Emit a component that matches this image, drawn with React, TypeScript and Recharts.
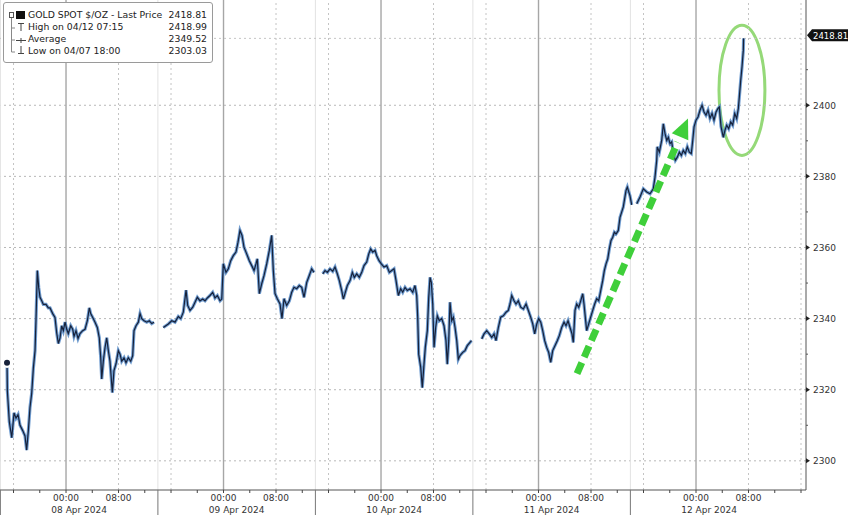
import React from "react";
import {
  LineChart,
  Line,
  XAxis,
  YAxis,
  ReferenceLine,
  ReferenceArea,
} from "recharts";

// time = hours since 08 Apr 2024 00:00, price = $/oz
const apr08Session: [number, number][] = [
  [-8.99, 2327.6], [-8.94, 2319.7], [-8.64, 2311.0], [-8.27, 2306.5], [-7.92, 2313.5],
  [-7.62, 2312.0], [-7.31, 2313.0], [-7.01, 2310.0], [-6.6, 2308.5], [-6.25, 2307.0],
  [-6.0, 2303.03], [-5.74, 2308.5], [-5.49, 2315.0], [-5.23, 2319.0], [-4.98, 2326.0],
  [-4.72, 2331.0], [-4.57, 2340.0], [-4.37, 2353.5], [-4.16, 2348.7], [-3.96, 2346.0],
  [-3.7, 2345.0], [-3.46, 2344.0], [-3.05, 2344.0], [-2.7, 2343.0], [-2.44, 2343.0],
  [-2.03, 2341.4], [-1.68, 2340.3], [-1.42, 2336.0], [-1.17, 2333.0], [-0.91, 2334.6],
  [-0.66, 2338.0], [-0.41, 2336.6], [-0.15, 2339.0], [0.11, 2337.0], [0.35, 2335.8],
  [0.72, 2338.0], [1.02, 2337.0], [1.22, 2335.0], [1.52, 2336.6], [1.83, 2334.4],
  [2.13, 2335.8], [2.54, 2336.6], [2.9, 2337.0], [3.25, 2339.4], [3.55, 2343.0],
  [3.76, 2341.4], [4.07, 2340.3], [4.42, 2339.0], [4.77, 2337.5], [5.07, 2334.6],
  [5.29, 2329.0], [5.44, 2323.0], [5.68, 2328.0], [5.94, 2331.8], [6.2, 2334.6],
  [6.45, 2331.0], [6.7, 2328.0], [7.06, 2319.2], [7.31, 2325.4], [7.62, 2327.3],
  [7.97, 2331.0], [8.23, 2330.0], [8.49, 2328.0], [8.84, 2329.0], [9.14, 2327.6],
  [9.49, 2329.0], [9.86, 2328.0], [10.16, 2329.6], [10.36, 2336.6], [10.67, 2338.0],
  [11.02, 2339.0], [11.28, 2341.4], [11.54, 2340.0], [11.89, 2339.4], [12.3, 2339.0],
  [12.69, 2339.4], [13.06, 2338.6], [13.41, 2339.0],
];

const apr09Session: [number, number][] = [
  [14.83, 2337.5], [15.59, 2338.5], [16.11, 2339.4], [16.61, 2339.0], [17.11, 2340.6],
  [17.48, 2340.0], [17.87, 2341.8], [18.29, 2348.0], [18.54, 2343.7], [18.9, 2342.3],
  [19.31, 2343.2], [19.66, 2344.6], [20.01, 2346.0], [20.42, 2345.0], [20.83, 2345.5],
  [21.18, 2345.0], [21.53, 2345.8], [21.94, 2346.5], [22.35, 2347.4], [22.7, 2345.8],
  [23.06, 2346.5], [23.47, 2345.0], [23.73, 2345.5], [23.97, 2355.4], [24.38, 2353.0],
  [24.73, 2354.0], [25.1, 2356.3], [25.49, 2357.7], [25.9, 2358.7], [26.21, 2361.5],
  [26.51, 2364.8], [26.82, 2363.4], [27.12, 2360.1], [27.53, 2358.2], [27.93, 2356.3],
  [28.3, 2354.9], [28.65, 2353.5], [28.95, 2355.4], [29.15, 2356.8], [29.46, 2347.0],
  [29.82, 2349.8], [30.17, 2352.1], [30.58, 2355.4], [30.98, 2359.2], [31.34, 2363.4],
  [31.59, 2353.5], [31.85, 2347.0], [32.2, 2345.6], [32.61, 2344.1], [32.91, 2340.0],
  [33.22, 2345.6], [33.63, 2343.7], [34.03, 2345.0], [34.39, 2347.4], [34.74, 2348.8],
  [35.15, 2348.4], [35.55, 2349.3], [35.92, 2348.8], [36.27, 2346.0], [36.68, 2350.2],
  [37.07, 2352.1], [37.44, 2354.0], [37.79, 2353.0],
];

const apr10Session: [number, number][] = [
  [39.12, 2352.6], [39.47, 2353.5], [39.82, 2353.0], [40.23, 2354.0], [40.64, 2353.3],
  [40.99, 2354.5], [41.34, 2352.6], [41.65, 2350.7], [42.01, 2347.9], [42.26, 2345.5],
  [42.56, 2347.4], [42.87, 2349.3], [43.28, 2350.7], [43.63, 2353.0], [43.93, 2351.6],
  [44.3, 2352.6], [44.69, 2351.6], [45.06, 2353.0], [45.41, 2354.9], [45.82, 2355.9],
  [46.13, 2358.2], [46.43, 2359.6], [46.74, 2358.7], [47.09, 2359.2], [47.34, 2357.7],
  [47.7, 2356.3], [48.05, 2355.4], [48.46, 2354.5], [48.87, 2354.9], [49.27, 2353.0],
  [49.63, 2353.5], [49.98, 2354.0], [50.29, 2350.7], [50.64, 2346.5], [51.0, 2348.4],
  [51.31, 2347.4], [51.66, 2348.8], [52.01, 2347.9], [52.42, 2348.4], [52.83, 2347.4],
  [53.18, 2349.3], [53.44, 2346.5], [53.59, 2340.4], [53.74, 2330.0], [54.05, 2326.3],
  [54.29, 2320.6], [54.55, 2327.2], [54.75, 2331.9], [55.06, 2336.6], [55.27, 2346.0],
  [55.47, 2351.6], [55.67, 2350.2], [55.88, 2344.1], [56.08, 2331.9], [56.33, 2337.5],
  [56.58, 2340.8], [56.88, 2339.4], [57.25, 2340.0], [57.6, 2338.0], [57.9, 2333.8],
  [58.1, 2327.2], [58.32, 2333.8], [58.51, 2344.6], [58.77, 2339.4], [59.02, 2340.4],
  [59.28, 2337.5], [59.54, 2333.8], [59.78, 2328.6], [60.04, 2329.6], [60.45, 2330.5],
  [60.8, 2331.0], [61.15, 2332.4], [61.56, 2333.3], [61.79, 2333.8],
];

const apr11Session: [number, number][] = [
  [63.35, 2334.3], [63.7, 2335.7], [64.11, 2336.6], [64.5, 2335.7], [64.87, 2334.7],
  [65.22, 2335.7], [65.52, 2333.8], [65.88, 2337.5], [66.24, 2340.4], [66.64, 2340.8],
  [67.05, 2341.8], [67.4, 2342.3], [67.66, 2344.1], [67.92, 2346.5], [68.27, 2345.0],
  [68.57, 2344.1], [68.92, 2345.0], [69.29, 2343.2], [69.69, 2342.7], [70.1, 2344.1],
  [70.45, 2342.3], [70.81, 2340.4], [71.12, 2338.5], [71.42, 2335.7], [71.73, 2338.5],
  [72.03, 2340.0], [72.34, 2339.0], [72.64, 2336.6], [72.94, 2333.8], [73.25, 2331.9],
  [73.55, 2330.5], [73.86, 2327.7], [74.16, 2331.0], [74.51, 2332.4], [74.86, 2333.8],
  [75.17, 2335.2], [75.53, 2337.5], [75.89, 2339.0], [76.19, 2338.0], [76.5, 2339.4],
  [76.8, 2337.5], [77.1, 2335.7], [77.3, 2333.3], [77.56, 2342.3], [77.82, 2344.1],
  [78.13, 2343.2], [78.43, 2345.0], [78.74, 2347.0], [78.93, 2344.1], [79.13, 2340.4],
  [79.34, 2336.6], [79.65, 2338.5], [79.95, 2340.4], [80.26, 2342.3], [80.56, 2344.1],
  [80.87, 2345.6], [81.17, 2345.0], [81.48, 2347.9], [81.78, 2350.7], [82.03, 2353.5],
  [82.29, 2355.4], [82.55, 2356.8], [82.79, 2359.6], [83.05, 2362.0], [83.31, 2362.9],
  [83.55, 2364.3], [83.81, 2363.8], [84.16, 2364.8], [84.42, 2368.5], [84.92, 2371.4],
  [85.33, 2376.0], [85.53, 2377.0], [85.94, 2374.5], [86.2, 2372.0],
];

const apr12Session: [number, number][] = [
  [86.97, 2372.3], [87.47, 2374.2], [87.97, 2376.5], [88.49, 2375.6], [88.99, 2375.1],
  [89.49, 2376.5], [89.75, 2379.8], [90.01, 2384.5], [90.1, 2388.3], [90.41, 2386.8],
  [90.77, 2390.1], [91.02, 2394.8], [91.28, 2392.0], [91.54, 2390.1], [91.78, 2391.0],
  [92.04, 2389.2], [92.3, 2389.7], [92.54, 2386.4], [92.85, 2384.5], [93.15, 2385.4],
  [93.46, 2386.8], [93.76, 2385.9], [94.06, 2387.3], [94.37, 2386.4], [94.67, 2388.3],
  [94.98, 2386.8], [95.28, 2386.4], [95.5, 2390.1], [95.7, 2393.9], [96.0, 2395.8],
  [96.31, 2396.7], [96.61, 2398.6], [96.92, 2400.0], [97.22, 2398.1], [97.52, 2397.2],
  [97.83, 2398.6], [98.13, 2396.3], [98.44, 2397.7], [98.74, 2395.8], [99.05, 2398.1],
  [99.35, 2399.1], [99.55, 2399.5], [99.81, 2394.0], [100.16, 2391.0], [100.42, 2393.0],
  [100.68, 2394.4], [100.98, 2393.4], [101.29, 2395.3], [101.59, 2394.4], [101.9, 2397.7],
  [102.2, 2396.3], [102.45, 2399.1], [102.6, 2402.3], [102.81, 2407.0], [103.01, 2410.8],
  [103.21, 2415.5], [103.25, 2418.81],
];

const sessions = [apr08Session, apr09Session, apr10Session, apr11Session, apr12Session];

const LAST_PRICE = 2418.81;
const legendRows = [
  { label: "GOLD SPOT $/OZ - Last Price", value: "2418.81" },
  { label: "High on 04/12 07:15", value: "2418.99" },
  { label: "Average", value: "2349.52" },
  { label: "Low on 04/07 18:00", value: "2303.03" },
];

const yMajorTicks = [2300, 2320, 2340, 2360, 2380, 2400];
const yMinorTicks = [2310, 2330, 2350, 2370, 2390, 2410];
const xTicks = [-8, -4, 0, 4, 8, 12, 16, 20, 24, 28, 32, 36, 40, 44, 48, 52, 56, 60, 64, 68, 72, 76, 80, 84, 88, 92, 96, 100, 104, 108, 112];
const midnightTicks = [0, 24, 48, 72, 96];
const dottedTicks = [-8, 8, 16, 32, 40, 56, 64, 80, 88, 104, 112];
const daySeparators = [-10, 14, 38, 62, 86];
const dateTicks = [2, 26, 50, 74, 98];
const dateLabels = ["08 Apr 2024", "09 Apr 2024", "10 Apr 2024", "11 Apr 2024", "12 Apr 2024"];

// annotations
const trendArrow = [
  { x: 77.87, y: 2324.5 },
  { x: 94.78, y: 2396.3 },
];
const spikeCircle = { x1: 99.5, x2: 106.5, y1: 2385.9, y2: 2422.5 };

const X_MIN = -10.06;
const X_MAX = 112.76;
const Y_MIN = 2291.8;
const Y_MAX = 2429.6;
const PLOT_W = 806;
const PX_PER_HOUR = PLOT_W / (X_MAX - X_MIN);

const FONT = "'DejaVu Sans', Verdana, sans-serif";

// flatten sessions, with a null row between them so the line breaks
const data: { t: number; price: number | null }[] = [];
sessions.forEach((s, i) => {
  if (i > 0) {
    const prev = sessions[i - 1];
    data.push({ t: (prev[prev.length - 1][0] + s[0][0]) / 2, price: null });
  }
  s.forEach(([t, price]) => data.push({ t, price }));
});

const TimeTick = (props: any) => {
  const { x, y, payload } = props;
  const h = ((payload.value % 24) + 24) % 24;
  const label = h === 0 ? "00:00" : h === 8 ? "08:00" : "";
  if (!label) return <g />;
  return (
    <text x={x} y={y + 7} textAnchor="middle" fontSize={9} fill="#333" fontFamily={FONT}>
      {label}
    </text>
  );
};

const DateTick = (props: any) => {
  const { x, y, payload } = props;
  const idx = dateTicks.indexOf(payload.value);
  const sepX = x - 12 * PX_PER_HOUR;
  return (
    <g>
      <line x1={sepX} y1={y - 14} x2={sepX} y2={y + 12} stroke="#777" strokeWidth={1} />
      <text x={x} y={y + 9} textAnchor="middle" fontSize={9} fill="#333" fontFamily={FONT}>
        {dateLabels[idx]}
      </text>
    </g>
  );
};

const PriceTick = (props: any) => {
  const { x, y, payload } = props;
  const axisX = x - 7;
  if (yMajorTicks.includes(payload.value)) {
    return (
      <g>
        <polygon points={`${axisX},${y - 2.5} ${axisX + 4},${y} ${axisX},${y + 2.5}`} fill="#222" />
        <text x={axisX + 7} y={y + 3.5} fontSize={9} fill="#333" fontFamily={FONT}>
          {payload.value}
        </text>
      </g>
    );
  }
  return <line x1={axisX} y1={y} x2={axisX + 2} y2={y} stroke="#555" />;
};

const LastPriceTag = (props: any) => {
  const { viewBox } = props;
  const x = viewBox.x + viewBox.width;
  const y = viewBox.y - 3;
  return (
    <g>
      <polygon
        points={`${x + 1},${y} ${x + 6},${y - 6} ${x + 42},${y - 6} ${x + 42},${y + 6} ${x + 6},${y + 6}`}
        fill="#111"
      />
      <text x={x + 7} y={y + 3.3} fontSize={8.5} fill="#fff" fontFamily={FONT}>
        {LAST_PRICE.toFixed(2)}
      </text>
    </g>
  );
};

const ArrowShape = (props: any) => {
  const { x1, y1, x2, y2 } = props;
  const dx = x2 - x1;
  const dy = y2 - y1;
  const len = Math.sqrt(dx * dx + dy * dy);
  const ux = dx / len;
  const uy = dy / len;
  const headLen = 20;
  const bx = x2 - ux * headLen;
  const by = y2 - uy * headLen;
  const px = -uy;
  const py = ux;
  return (
    <g>
      <line
        x1={x1}
        y1={y1}
        x2={bx - ux * 6}
        y2={by - uy * 6}
        stroke="#3fcf3a"
        strokeWidth={7}
        strokeDasharray="12 6"
      />
      <polygon
        points={`${x2},${y2} ${bx + px * 9},${by + py * 9} ${bx - px * 9},${by - py * 9}`}
        fill="#3fcf3a"
      />
    </g>
  );
};

const EllipseShape = (props: any) => {
  const { x, y, width, height } = props;
  return (
    <ellipse
      cx={x + width / 2}
      cy={y + height / 2}
      rx={width / 2}
      ry={height / 2}
      fill="none"
      stroke="#95d978"
      strokeWidth={3}
    />
  );
};

function LegendBox() {
  return (
    <div
      style={{
        position: "absolute",
        left: 3,
        top: 2,
        width: 210,
        height: 61,
        border: "1px solid #9a9a9a",
        borderRadius: 3,
        background: "#fff",
        boxSizing: "border-box",
        padding: "6px 5px 0 24px",
        fontFamily: FONT,
        fontSize: 9.3,
        lineHeight: "12px",
        color: "#222",
        whiteSpace: "nowrap",
      }}
    >
      <svg width={24} height={58} style={{ position: "absolute", left: 0, top: 0 }}>
        <rect x={5.5} y={9.5} width={4} height={5} fill="none" stroke="#555" />
        <rect x={12} y={8} width={9} height={8} fill="#111" />
        <line x1={7.5} y1={15} x2={7.5} y2={49} stroke="#888" />
        <line x1={7.5} y1={25} x2={11} y2={25} stroke="#888" />
        <line x1={7.5} y1={37} x2={11} y2={37} stroke="#888" />
        <line x1={7.5} y1={49} x2={11} y2={49} stroke="#888" />
        <line x1={14} y1={20.5} x2={20} y2={20.5} stroke="#444" />
        <line x1={17} y1={20.5} x2={17} y2={28} stroke="#444" />
        <line x1={12} y1={37.5} x2={22} y2={37.5} stroke="#444" />
        <line x1={17} y1={35} x2={17} y2={40} stroke="#444" />
        <line x1={17} y1={43} x2={17} y2={50} stroke="#444" />
        <line x1={14} y1={50.5} x2={20} y2={50.5} stroke="#444" />
      </svg>
      {legendRows.map((r) => (
        <div key={r.label} style={{ display: "flex", justifyContent: "space-between" }}>
          <span>{r.label}</span>
          <span>{r.value}</span>
        </div>
      ))}
    </div>
  );
}

export default function App() {
  return (
    <div style={{ position: "absolute", left: 0, top: 0, width: 848, height: 515, background: "#fff", fontFamily: FONT }}>
      <LineChart width={848} height={515} data={data} margin={{ top: 0, right: 0, bottom: 0, left: 0 }}>
        <XAxis
          dataKey="t"
          type="number"
          domain={[X_MIN, X_MAX]}
          ticks={xTicks}
          interval={0}
          allowDataOverflow
          height={14}
          tickSize={3}
          tickMargin={1}
          tick={<TimeTick />}
          tickLine={{ stroke: "#444" }}
          axisLine={{ stroke: "#555" }}
        />
        <XAxis
          xAxisId="date"
          dataKey="t"
          type="number"
          domain={[X_MIN, X_MAX]}
          ticks={dateTicks}
          interval={0}
          allowDataOverflow
          height={11}
          tickSize={0}
          tickMargin={0}
          tickLine={false}
          axisLine={false}
          tick={<DateTick />}
        />
        <YAxis
          orientation="right"
          width={42}
          domain={[Y_MIN, Y_MAX]}
          ticks={[...yMajorTicks, ...yMinorTicks].sort((a, b) => a - b)}
          interval={0}
          allowDataOverflow
          tickSize={4}
          tickMargin={3}
          tickLine={false}
          tick={<PriceTick />}
          axisLine={{ stroke: "#555" }}
        />

        {yMajorTicks.map((v) => (
          <ReferenceLine key={`h${v}`} y={v} stroke="#b8b8b8" strokeDasharray="2 3" />
        ))}
        {daySeparators.map((t) => (
          <ReferenceLine key={`s${t}`} x={t} stroke="#e2e2e2" />
        ))}
        {dottedTicks.map((t) => (
          <ReferenceLine key={`d${t}`} x={t} stroke="#c4c4c4" strokeDasharray="2 3" />
        ))}
        {midnightTicks.map((t) => (
          <ReferenceLine key={`m${t}`} x={t} stroke="#a6a6a6" strokeWidth={1.4} />
        ))}
        <ReferenceLine y={LAST_PRICE} stroke="#c4c4c4" strokeDasharray="2 3" label={LastPriceTag} />

        <Line
          dataKey="price"
          type="linear"
          stroke="#4f86c6"
          strokeWidth={3.2}
          strokeOpacity={0.8}
          dot={false}
          connectNulls={false}
          isAnimationActive={false}
        />
        <Line
          dataKey="price"
          type="linear"
          stroke="#16213a"
          strokeWidth={1.2}
          dot={false}
          connectNulls={false}
          isAnimationActive={false}
        />

        <ReferenceLine segment={trendArrow} shape={ArrowShape} />
        <ReferenceArea {...spikeCircle} shape={EllipseShape} />
      </LineChart>
      <LegendBox />
    </div>
  );
}
